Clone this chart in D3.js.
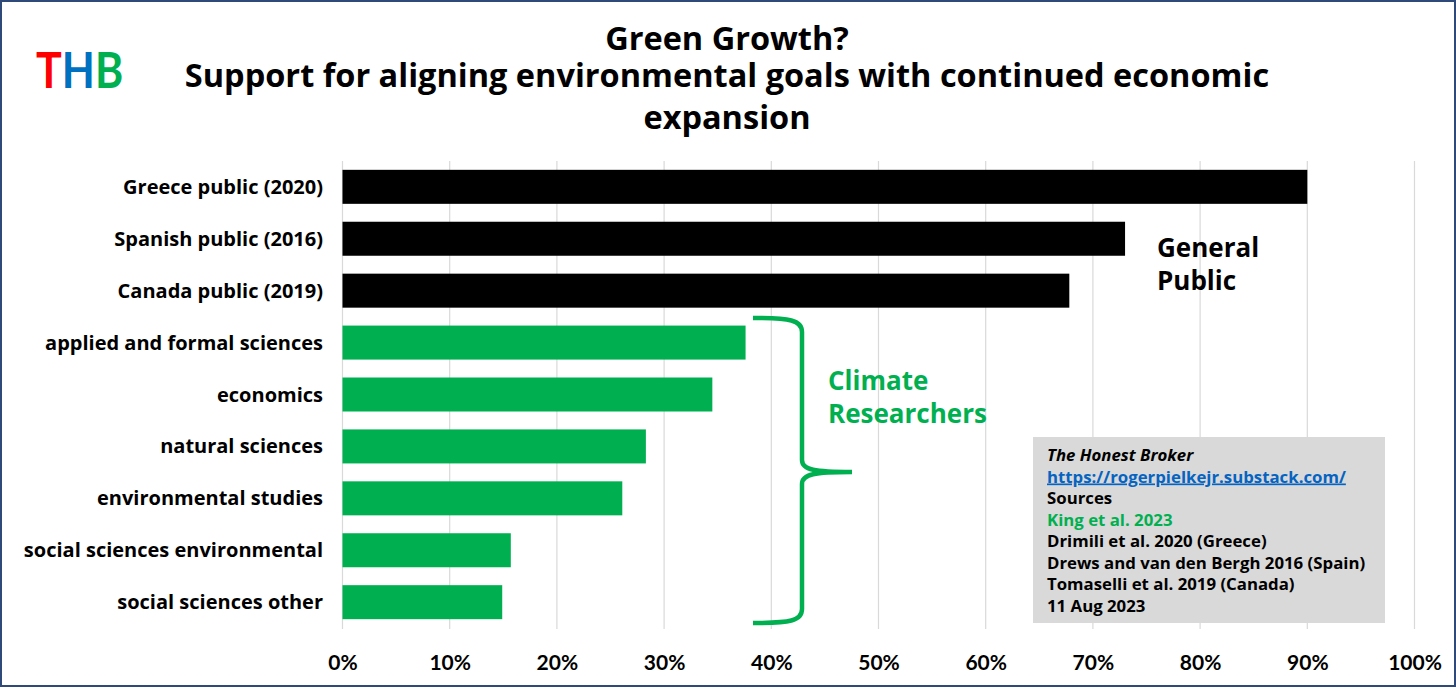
<!DOCTYPE html>
<html>
<head>
<meta charset="utf-8">
<script src="https://cdn.jsdelivr.net/npm/d3@7"></script>
<style>
  html, body { margin: 0; padding: 0; background: #fff; }
  svg { display: block; font-family: "Open Sans", "Lato", sans-serif; }
</style>
</head>
<body>
<div id="chart"></div>
<script>
// categories, top to bottom
const categories = [
    "Greece public (2020)",
    "Spanish public (2016)",
    "Canada public (2019)",
    "applied and formal sciences",
    "economics",
    "natural sciences",
    "environmental studies",
    "social sciences environmental",
    "social sciences other"
];
const groups = ["public", "public", "public", "research", "research", "research", "research", "research", "research"];
const support = [0.90, 0.73, 0.678, 0.376, 0.345, 0.283, 0.261, 0.157, 0.149];
const xTicks = [0, 0.1, 0.2, 0.3, 0.4, 0.5, 0.6, 0.7, 0.8, 0.9, 1.0];

const titleLines = [
    "Green Growth?",
    "Support for aligning environmental goals with continued economic",
    "expansion"
];
const sourceLines = [
    { text: "The Honest Broker", style: "italic" },
    { text: "https://rogerpielkejr.substack.com/", style: "link" },
    { text: "Sources", style: "plain" },
    { text: "King et al. 2023", style: "green" },
    { text: "Drimili et al. 2020 (Greece)", style: "plain" },
    { text: "Drews and van den Bergh 2016 (Spain)", style: "plain" },
    { text: "Tomaselli et al. 2019 (Canada)", style: "plain" },
    { text: "11 Aug 2023", style: "plain" }
];

const W = 1456, H = 687;
const GREEN = "#00B050";
const colors = { public: "#000000", research: GREEN };

const svg = d3.select("#chart").append("svg")
    .attr("width", W)
    .attr("height", H);

svg.append("rect")
    .attr("x", 1).attr("y", 1)
    .attr("width", W - 2).attr("height", H - 2)
    .attr("fill", "#fff")
    .attr("stroke", "#2F4A78")
    .attr("stroke-width", 2);

// logo, squeezed horizontally like the narrow original
const logo = svg.append("g")
    .attr("transform", "translate(36,88) scale(0.86,1)")
    .append("text")
    .attr("font-family", "Lato, sans-serif")
    .attr("font-size", 50)
    .attr("font-weight", "bold");
[["T", "#FF0000"], ["H", "#0070C0"], ["B", GREEN]].forEach(([c, col]) => {
    logo.append("tspan").attr("fill", col).text(c);
});

// title
svg.append("g").selectAll("text")
    .data(titleLines)
    .join("text")
    .attr("x", 727)
    .attr("y", (d, i) => [50, 87, 129][i])
    .attr("text-anchor", "middle")
    .attr("font-size", 32.5)
    .attr("font-weight", "bold")
    .attr("fill", "#000")
    .text(d => d);

const x = d3.scaleLinear().domain([0, 1]).range([342.5, 1414.5]);
const y = d3.scaleBand().domain(categories).range([161, 628]).paddingInner(0.345).paddingOuter(0.17);

// gridlines
svg.append("g").selectAll("line")
    .data(xTicks)
    .join("line")
    .attr("x1", d => x(d)).attr("x2", d => x(d))
    .attr("y1", 161).attr("y2", 629)
    .attr("stroke", "#D9D9D9")
    .attr("stroke-width", 1.2);

// bars
svg.append("g").selectAll("rect")
    .data(categories)
    .join("rect")
    .attr("x", x(0))
    .attr("y", d => y(d))
    .attr("width", (d, i) => x(support[i]) - x(0))
    .attr("height", y.bandwidth())
    .attr("fill", (d, i) => colors[groups[i]]);

// category labels
svg.append("g").selectAll("text")
    .data(categories)
    .join("text")
    .attr("x", 323)
    .attr("y", d => y(d) + y.bandwidth() / 2)
    .attr("dy", "0.35em")
    .attr("text-anchor", "end")
    .attr("font-size", 20)
    .attr("font-weight", "bold")
    .attr("fill", "#000")
    .text(d => d);

// x axis labels
const xAxis = d3.axisBottom(x)
    .tickValues(xTicks)
    .tickFormat(d3.format(".0%"))
    .tickSize(0)
    .tickPadding(0);
const ax = svg.append("g").attr("transform", "translate(0,655)").call(xAxis);
ax.select(".domain").remove();
ax.selectAll("text")
    .attr("font-family", "Lato, sans-serif")
    .attr("font-size", 21)
    .attr("font-weight", "bold")
    .attr("fill", "#000");

// group annotations
const annot = [
    { lines: ["General", "Public"], x: 1157, y: 257, color: "#000" },
    { lines: ["Climate", "Researchers"], x: 828, y: 390, color: GREEN }
];
annot.forEach(a => {
    svg.append("g").selectAll("text")
        .data(a.lines)
        .join("text")
        .attr("x", a.x)
        .attr("y", (d, i) => a.y + i * 33)
        .attr("font-size", 26)
        .attr("font-weight", "bold")
        .attr("fill", a.color)
        .text(d => d);
});

// curly brace
const bx = 802, bTop = 318, bBot = 623, bMid = 472;
const brace = d3.path();
brace.moveTo(753, bTop);
brace.bezierCurveTo(790, bTop, bx, bTop + 2, bx, bTop + 14);
brace.lineTo(bx, bMid - 12);
brace.bezierCurveTo(bx, bMid - 2, 815, bMid, 852, bMid);
brace.moveTo(852, bMid);
brace.bezierCurveTo(815, bMid, bx, bMid + 2, bx, bMid + 12);
brace.lineTo(bx, bBot - 14);
brace.bezierCurveTo(bx, bBot - 2, 790, bBot, 753, bBot);
svg.append("path")
    .attr("d", brace.toString())
    .attr("fill", "none")
    .attr("stroke", GREEN)
    .attr("stroke-width", 4.5);

// source box
svg.append("rect")
    .attr("x", 1033).attr("y", 437)
    .attr("width", 352).attr("height", 186)
    .attr("fill", "#D9D9D9");

svg.append("g").selectAll("text")
    .data(sourceLines)
    .join("text")
    .attr("x", 1047)
    .attr("y", (d, i) => 461 + i * 21.5)
    .attr("font-size", 16.8)
    .attr("font-weight", "bold")
    .attr("font-style", d => d.style === "italic" ? "italic" : "normal")
    .attr("fill", d => d.style === "link" ? "#0563C1" : d.style === "green" ? GREEN : "#000")
    .attr("text-decoration", d => d.style === "link" ? "underline" : null)
    .text(d => d.text);
</script>
</body>
</html>
